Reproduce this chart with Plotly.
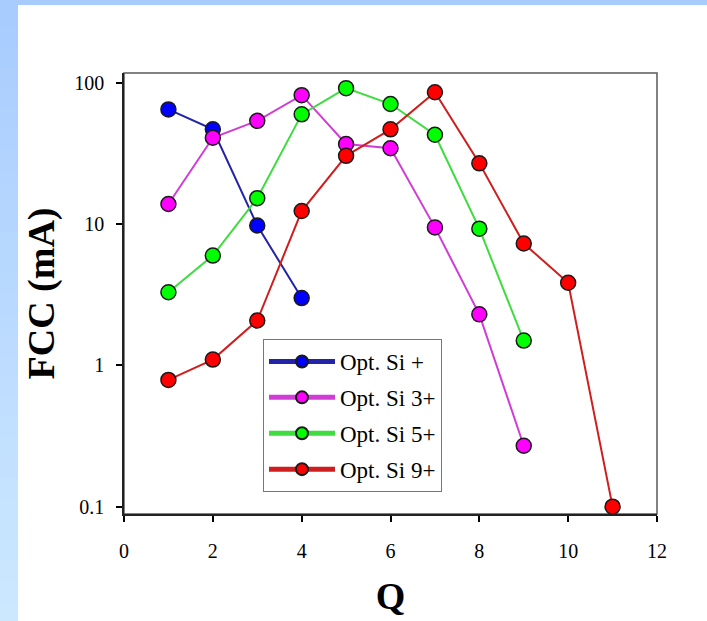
import plotly.graph_objects as go

# ---- data ----
q_si1 = [1, 2, 3, 4]
fcc_si1 = [65, 47, 9.8, 3.0]

q_si3 = [1, 2, 3, 4, 5, 6, 7, 8, 9]
fcc_si3 = [13.9, 41, 54, 82, 37, 34.5, 9.5, 2.3, 0.27]

q_si5 = [1, 2, 3, 4, 5, 6, 7, 8, 9]
fcc_si5 = [3.3, 6.0, 15.3, 60, 92, 71, 43, 9.3, 1.5]

q_si9 = [1, 2, 3, 4, 5, 6, 7, 8, 9, 10, 11]
fcc_si9 = [0.79, 1.1, 2.08, 12.4, 30.5, 47, 86, 27, 7.3, 3.85, 0.1]

series_names = ["Opt. Si +", "Opt. Si 3+", "Opt. Si 5+", "Opt. Si 9+"]
y_tick_vals = [0.1, 1, 10, 100]
y_tick_text = ["0.1", "1", "10", "100"]
x_tick_vals = [0, 2, 4, 6, 8, 10, 12]

# ---- styling ----
W, H = 707, 621
L, R, T, B = 124, 50, 73, 107
PW, PH = W - L - R, H - T - B
FONT = "Liberation Serif"


def px_x(px):
    return (px - L) / PW


def px_y(py):
    return (H - B - py) / PH


styles = [
    ("#0000ff", "#2323a8"),
    ("#ff00ff", "#d23cd6"),
    ("#00ff00", "#3fdc3f"),
    ("#ff0000", "#d01e1e"),
]
data = [(q_si1, fcc_si1), (q_si3, fcc_si3), (q_si5, fcc_si5), (q_si9, fcc_si9)]

fig = go.Figure()
for i, ((xs, ys), name, (mc, lc)) in enumerate(zip(data, series_names, styles)):
    fig.add_trace(go.Scatter(
        x=xs, y=ys, name=name, mode="lines+markers", legendgroup=f"g{i}",
        line=dict(color=lc, width=2),
        marker=dict(size=15, color=mc, line=dict(color="#1a1a1a", width=1.5)),
    ))

shapes = []
# top band
shapes.append(dict(type="rect", xref="paper", yref="paper",
                   x0=px_x(0), x1=px_x(W), y0=px_y(5), y1=px_y(-2),
                   fillcolor="#a8ccfe", line=dict(width=0), layer="below"))
# left band with vertical gradient
n = 30
c0 = (0xa8, 0xcc, 0xfe)
c1 = (0xcc, 0xe8, 0xff)
for k in range(n):
    t = k / (n - 1)
    col = "rgb(%d,%d,%d)" % tuple(round(a + (b - a) * t) for a, b in zip(c0, c1))
    ya = 5 + (H + 2 - 5) * k / n
    yb = 5 + (H + 2 - 5) * (k + 1) / n + 1
    shapes.append(dict(type="rect", xref="paper", yref="paper",
                       x0=px_x(-2), x1=px_x(18), y0=px_y(yb), y1=px_y(ya),
                       fillcolor=col, line=dict(width=0), layer="below"))
# plot frame (top/right in grey)
shapes.append(dict(type="rect", xref="paper", yref="paper", x0=0, x1=1, y0=0, y1=1,
                   line=dict(color="#5a5a5a", width=1.5), layer="below"))

fig.update_layout(
    width=W, height=H,
    margin=dict(l=L, r=R, t=T, b=B),
    paper_bgcolor="white", plot_bgcolor="white",
    font=dict(family=FONT, size=20, color="black"),
    shapes=shapes,
    showlegend=True,
    legend=dict(
        x=px_x(263), y=px_y(339), xanchor="left", yanchor="top",
        bgcolor="white", bordercolor="#777777", borderwidth=1,
        font=dict(family=FONT, size=23, color="black"),
        traceorder="grouped", tracegroupgap=3, itemsizing="constant",
        itemwidth=66,
    ),
    xaxis=dict(
        range=[0, 12], tickvals=x_tick_vals, ticks="outside", ticklen=6,
        tickwidth=1.5, tickcolor="black", showline=True, linecolor="#222222",
        linewidth=1.5, showgrid=False, zeroline=False,
        tickfont=dict(family=FONT, size=20), ticklabelstandoff=12,
        title=dict(text="<b>Q</b>", font=dict(family=FONT, size=38), standoff=22),
    ),
    yaxis=dict(
        type="log", range=[-1.052, 2.071], tickvals=y_tick_vals, ticktext=y_tick_text,
        ticks="outside", ticklen=6, tickwidth=1.5, tickcolor="black",
        showline=True, linecolor="#222222", linewidth=1.5, showgrid=False,
        zeroline=False, tickfont=dict(family=FONT, size=20), ticklabelstandoff=8,
        title=dict(text="<b>FCC (mA)</b>", font=dict(family=FONT, size=38), standoff=8),
    ),
)

fig.write_html("out.html")
